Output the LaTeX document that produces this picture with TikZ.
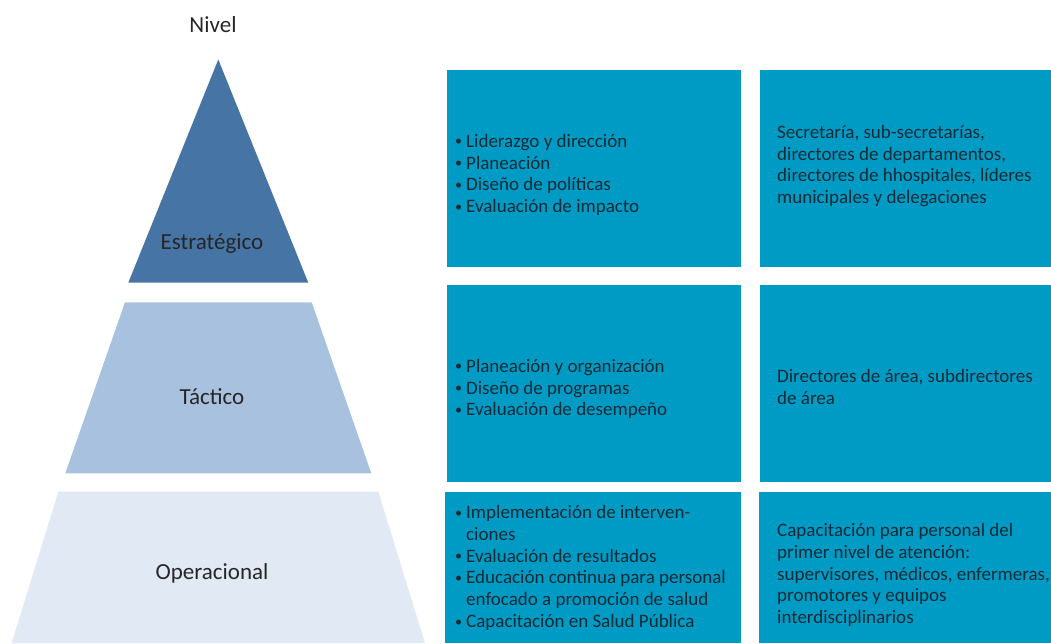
\documentclass[tikz,border=0pt]{standalone}
\usepackage{fontspec}
\setmainfont{Carlito}
\definecolor{boxblue}{HTML}{009BC5}
\definecolor{stratc}{HTML}{4674A4}
\definecolor{tactc}{HTML}{A7C1DF}
\definecolor{operc}{HTML}{E1E9F4}
\definecolor{txtdark}{HTML}{132B36}
\definecolor{lbl}{HTML}{262626}
\newcommand{\bul}{\makebox[11pt][l]{\raisebox{1.5pt}{\fontsize{14}{14}\selectfont\textbullet}}}
\newcommand{\ind}{\hspace*{11pt}}
\begin{document}
\begin{tikzpicture}[x=1pt,y=-1pt,
  cell/.style={fill=boxblue,draw=none},
  boxtxt/.style={anchor=west,align=left,inner sep=0pt,text=txtdark,font=\fontsize{19}{21.8}\selectfont},
  lvl/.style={text=lbl,font=\fontsize{23}{26}\selectfont,inner sep=0pt}]
\useasboundingbox (0,0) rectangle (1051,643);
% pyramid
\fill[stratc] (218.3,59.5) -- (308.3,282.7) -- (128.3,282.7) -- cycle;
\fill[tactc] (125,302.3) -- (311.7,302.3) -- (371.3,473.3) -- (65.3,473.3) -- cycle;
\fill[operc] (58.3,491.7) -- (378.3,491.7) -- (425,643) -- (11.7,643) -- cycle;
\node[lvl] (nivel) at (213,25) {Nivel};
\node[lvl] (estr) at (212,244) {Estratégico};
\node[lvl] (tact) at (212,397) {Táctico};
\node[lvl] (oper) at (212,573) {Operacional};
% boxes
\fill[cell] (447,70) rectangle (741,267);
\fill[cell] (760,70) rectangle (1051,267);
\fill[cell] (447,285) rectangle (741,482);
\fill[cell] (760,285) rectangle (1051,482);
\fill[cell] (445,492) rectangle (741,643);
\fill[cell] (759,492) rectangle (1051,643);
\node[boxtxt] (a1) at (455,175) {\bul Liderazgo y dirección\\\bul Planeación\\\bul Diseño de políticas\\\bul Evaluación de impacto};
\node[boxtxt] (b1) at (777,166) {Secretaría, sub-secretarías,\\directores de departamentos,\\directores de hhospitales, líderes\\municipales y delegaciones};
\node[boxtxt] (a2) at (455,389) {\bul Planeación y organización\\\bul Diseño de programas\\\bul Evaluación de desempeño};
\node[boxtxt] (b2) at (777,387) {Directores de área, subdirectores\\de área};
\node[boxtxt] (a3) at (455,568) {\bul Implementación de interven-\\\ind ciones\\\bul Evaluación de resultados\\\bul Educación continua para personal\\\ind enfocado a promoción de salud\\\bul Capacitación en Salud Pública};
\node[boxtxt] (b3) at (777,575) {Capacitación para personal del\\primer nivel de atención:\\supervisores, médicos, enfermeras,\\promotores y equipos\\interdisciplinarios};
\end{tikzpicture}
\end{document}
